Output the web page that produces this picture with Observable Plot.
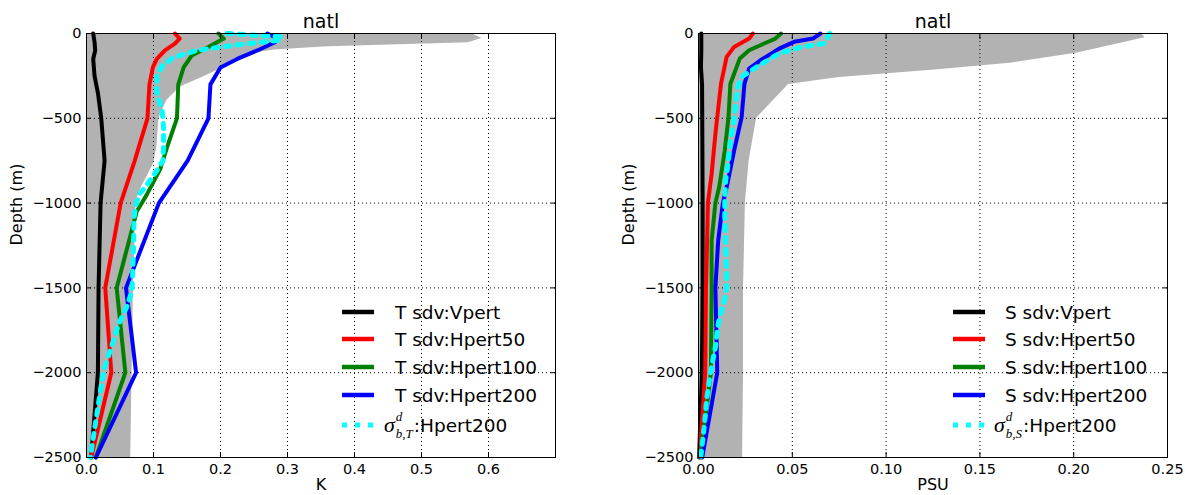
<!DOCTYPE html>
<html>
<head>
<meta charset="utf-8">
<script src="https://cdn.jsdelivr.net/npm/d3@7"></script>
<script src="https://cdn.jsdelivr.net/npm/@observablehq/plot@0.6"></script>
<style>
  html, body { margin: 0; padding: 0; background: #fff; }
  #wrap { position: relative; width: 1185px; height: 495px; overflow: hidden; font-family: "DejaVu Sans", sans-serif; }
  .panel { position: absolute; top: 0; }
  .legend-row { position: absolute; height: 30px; display: flex; align-items: center; transform: translateY(-50%); font-size: 18.5px; color: #000; white-space: nowrap; }
  .legend-row svg { display: block; }
  .math { font-family: "Liberation Serif", "DejaVu Serif", serif; font-style: italic; font-size: 22px; display: inline-flex; align-items: center; margin-right: 1px; }
  .ss { display: inline-flex; flex-direction: column; font-size: 13px; line-height: 11px; margin-left: 1px; }
  .ss .sup { transform: translateY(-3px); }
  .ss .sub { transform: translateY(3px); }
</style>
</head>
<body>
<div id="wrap"></div>
<script>
// ---------------- data (depth in m, value) ----------------
const depthTicks = [0, -500, -1000, -1500, -2000, -2500];
const kTicks = [0, 0.1, 0.2, 0.3, 0.4, 0.5, 0.6];
const psuTicks = [0, 0.05, 0.10, 0.15, 0.20, 0.25];

// Temperature panel (K)
const T_gray = [[0,0.575],[-30,0.59],[-55,0.57],[-78,0.36],[-98,0.28],[-118,0.245],[-148,0.222],[-197,0.206],[-256,0.174],[-316,0.14],[-394,0.12],[-500,0.108],[-670,0.105],[-770,0.1],[-907,0.082],[-986,0.074],[-1500,0.07],[-2000,0.068],[-2500,0.066]];
const T_Vpert = [[0,0.010],[-50,0.012],[-100,0.013],[-150,0.010],[-250,0.012],[-350,0.017],[-500,0.022],[-750,0.027],[-1000,0.021],[-1500,0.018],[-2000,0.017],[-2500,0.007]];
const T_Hpert50 = [[0,0.132],[-30,0.139],[-60,0.132],[-100,0.117],[-150,0.105],[-200,0.099],[-300,0.094],[-500,0.091],[-750,0.072],[-1000,0.051],[-1500,0.028],[-2000,0.037],[-2500,0.007]];
const T_Hpert100 = [[0,0.197],[-30,0.205],[-80,0.182],[-130,0.157],[-200,0.145],[-300,0.137],[-500,0.135],[-650,0.122],[-800,0.11],[-950,0.09],[-1050,0.075],[-1500,0.045],[-2000,0.058],[-2500,0.014]];
const T_Hpert200 = [[0,0.270],[-30,0.285],[-50,0.282],[-100,0.255],[-150,0.225],[-200,0.200],[-300,0.185],[-500,0.182],[-750,0.151],[-1000,0.108],[-1500,0.059],[-2000,0.074],[-2500,0.014]];
const T_sigma = [[0,0.21],[-10,0.25],[-20,0.29],[-40,0.29],[-60,0.24],[-80,0.2],[-100,0.165],[-140,0.13],[-190,0.113],[-250,0.105],[-350,0.105],[-460,0.113],[-550,0.115],[-670,0.115],[-750,0.114],[-808,0.105],[-888,0.091],[-947,0.079],[-1006,0.074],[-1085,0.071],[-1300,0.07],[-1516,0.068],[-1614,0.06],[-1713,0.048],[-1850,0.037],[-2000,0.025],[-2205,0.017],[-2440,0.008],[-2500,0.006]];

// Salinity panel (PSU)
const S_gray = [[0,0.236],[-25,0.238],[-115,0.202],[-175,0.166],[-215,0.126],[-260,0.075],[-300,0.048],[-500,0.031],[-750,0.027],[-1000,0.025],[-1500,0.024],[-2000,0.024],[-2500,0.0235]];
const S_Vpert = [[0,0.0015],[-100,0.0015],[-200,0.0013],[-300,0.0019],[-500,0.002],[-1000,0.0022],[-1500,0.0022],[-2000,0.0018],[-2500,0.0003]];
const S_Hpert50 = [[0,0.029],[-30,0.027],[-79,0.019],[-138,0.015],[-296,0.012],[-394,0.011],[-592,0.009],[-828,0.007],[-1000,0.005],[-1220,0.0046],[-1500,0.004],[-2000,0.0036],[-2500,0.0006]];
const S_Hpert100 = [[0,0.044],[-30,0.041],[-59,0.035],[-99,0.027],[-148,0.022],[-237,0.019],[-296,0.017],[-493,0.016],[-690,0.014],[-907,0.011],[-1000,0.009],[-1220,0.007],[-1500,0.007],[-2000,0.0066],[-2500,0.001]];
const S_Hpert200 = [[0,0.065],[-30,0.061],[-49,0.051],[-89,0.043],[-158,0.033],[-207,0.027],[-296,0.0245],[-493,0.023],[-690,0.019],[-907,0.015],[-1000,0.013],[-1220,0.0105],[-1500,0.009],[-2000,0.010],[-2500,0.002]];
const S_sigma = [[0,0.070],[-59,0.067],[-79,0.055],[-118,0.043],[-197,0.031],[-256,0.023],[-316,0.021],[-394,0.020],[-513,0.019],[-631,0.017],[-749,0.016],[-868,0.0145],[-986,0.014],[-1085,0.014],[-1260,0.0145],[-1417,0.015],[-1500,0.015],[-1565,0.014],[-1644,0.012],[-1713,0.0105],[-1850,0.009],[-2000,0.0064],[-2150,0.0044],[-2323,0.003],[-2460,0.0016],[-2500,0.0012]];

const T_labels = ["T sdv:Vpert", "T sdv:Hpert50", "T sdv:Hpert100", "T sdv:Hpert200", ":Hpert200"];
const S_labels = ["S sdv:Vpert", "S sdv:Hpert50", "S sdv:Hpert100", "S sdv:Hpert200", ":Hpert200"];
const colors = ["#000000", "#ff0000", "#008000", "#0000ff", "#00ffff"];

// ---------------- drawing ----------------
const rows = arr => arr.map(([d, v]) => ({depth: d, value: v}));

function makePanel(cfg) {
  const gridX = cfg.xTicks.filter(v => v > 0 && v < cfg.xMax - 1e-9);
  const gridY = depthTicks.filter(v => v > -2500 && v < 0);
  const gridStyle = {stroke: "#000", strokeWidth: 1, strokeDasharray: "1,3"};
  const lineMarks = cfg.series.map((s, i) => Plot.line(rows(s), {
    x: "value", y: "depth", stroke: colors[i], curve: "linear",
    strokeWidth: i === 4 ? 5 : 4,
    strokeDasharray: i === 4 ? "5,7" : null,
    strokeLinejoin: "round"
  }));
  const fs = 14.5;
  return Plot.plot({
    width: cfg.width, height: 495,
    marginLeft: cfg.ml, marginRight: cfg.mr, marginTop: 33, marginBottom: 38,
    style: {fontFamily: "DejaVu Sans", color: "#000", background: "transparent", overflow: "visible"},
    x: {domain: [0, cfg.xMax]},
    y: {domain: [-2500, 0]},
    marks: [
      Plot.areaX(rows(cfg.gray), {y: "depth", x1: 0, x2: "value", fill: "#b2b2b2", curve: "linear"}),
      Plot.ruleX(gridX, gridStyle),
      Plot.ruleY(gridY, gridStyle),
      ...lineMarks,
      Plot.frame({stroke: "#000", strokeWidth: 1}),
      Plot.axisX(cfg.xTicks, {anchor: "bottom", tickSize: -5, tickPadding: 11, tickFormat: cfg.fmt, label: null, fontSize: fs}),
      Plot.axisX(cfg.xTicks, {anchor: "top", tickSize: -5, tickFormat: () => "", label: null}),
      Plot.axisY(depthTicks, {anchor: "left", tickSize: -5, tickPadding: 10, tickFormat: d3.format(""), label: null, fontSize: fs}),
      Plot.axisY(depthTicks, {anchor: "right", tickSize: -5, tickFormat: () => "", label: null}),
      Plot.text(["natl"], {frameAnchor: "top", dy: -12, lineAnchor: "middle", fontSize: 19}),
      Plot.text([cfg.xLabel], {frameAnchor: "bottom", dy: 27, lineAnchor: "middle", fontSize: 16}),
      Plot.text(["Depth (m)"], {frameAnchor: "left", dx: -70, rotate: -90, lineAnchor: "middle", fontSize: 16})
    ]
  });
}

function addLegend(wrap, labels, lineX, textX, sub) {
  const ys = [312, 339, 367, 395, 425];
  labels.forEach((lab, i) => {
    const row = document.createElement("div");
    row.className = "legend-row";
    row.style.left = lineX + "px";
    row.style.top = ys[i] + "px";
    const dotted = i === 4;
    const svg = `<svg width="${textX - lineX}" height="10"><line x1="0" x2="32" y1="5" y2="5" stroke="${colors[i]}" stroke-width="${dotted ? 5 : 4.5}" ${dotted ? 'stroke-dasharray="5,8"' : ''}/></svg>`;
    let txt = lab;
    if (dotted) {
      txt = `<span class="math">σ<span class="ss"><span class="sup">d</span><span class="sub">b,${sub}</span></span></span>${lab}`;
    }
    row.innerHTML = svg + (dotted ? `<span style="margin-left:-11px">${txt}</span>` : `<span>${txt}</span>`);
    wrap.appendChild(row);
  });
}

const wrap = document.getElementById("wrap");

const left = makePanel({width: 600, ml: 86, mr: 45, xMax: 0.7, xTicks: kTicks, fmt: d3.format(".1f"), xLabel: "K", gray: T_gray,
  series: [T_Vpert, T_Hpert50, T_Hpert100, T_Hpert200, T_sigma]});
left.classList.add("panel");
left.style.left = "0px";
wrap.appendChild(left);

const right = makePanel({width: 585, ml: 98, mr: 18, xMax: 0.25, xTicks: psuTicks, fmt: d3.format(".2f"), xLabel: "PSU", gray: S_gray,
  series: [S_Vpert, S_Hpert50, S_Hpert100, S_Hpert200, S_sigma]});
right.classList.add("panel");
right.style.left = "600px";
wrap.appendChild(right);

addLegend(wrap, T_labels, 342, 395, "T");
addLegend(wrap, S_labels, 953, 1005, "S");
</script>
</body>
</html>
